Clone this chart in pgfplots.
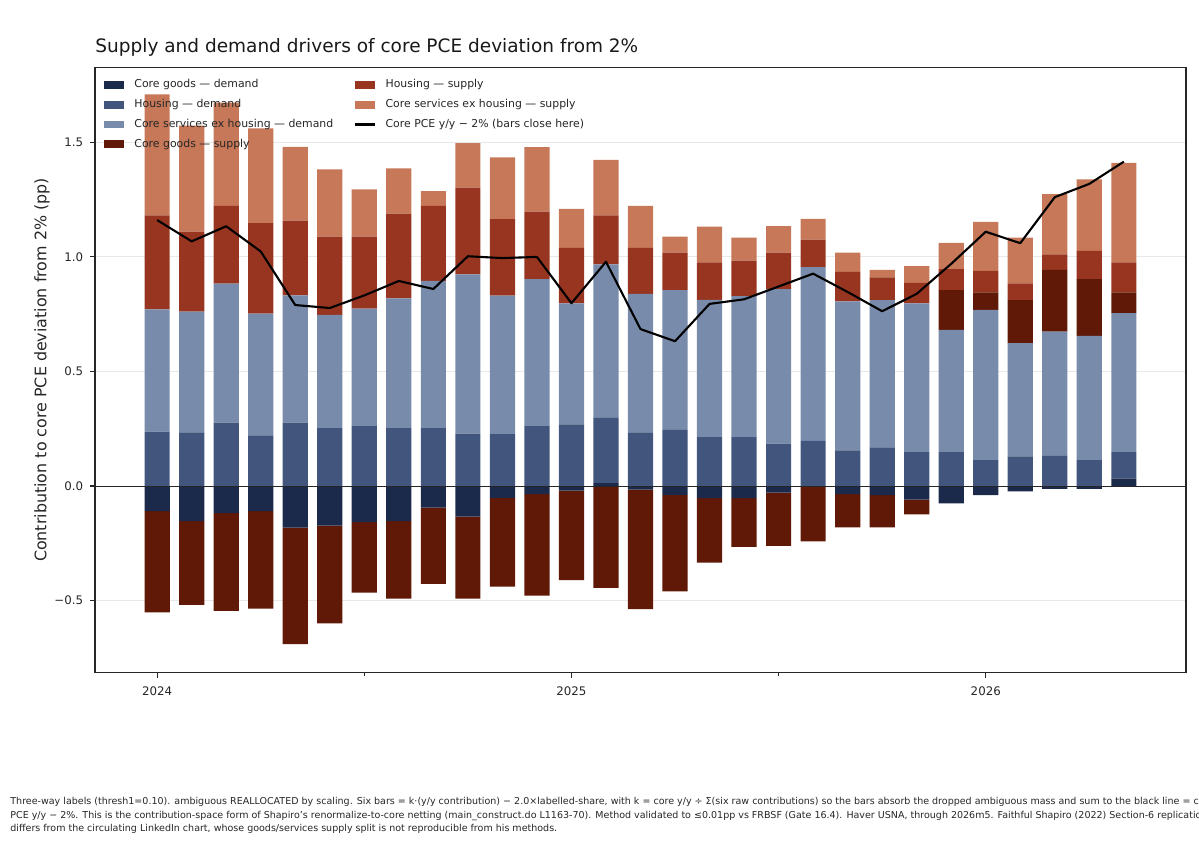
\documentclass[border=0pt]{standalone}
\usepackage{pgfplots}
\usepackage{pgfplotstable}
\pgfplotsset{compat=1.18}
\usepackage{fontspec}
\setmainfont{DejaVu Sans}
\definecolor{cgd}{HTML}{1B2A4A}
\definecolor{hd}{HTML}{41557D}
\definecolor{csd}{HTML}{788BAB}
\definecolor{cgs}{HTML}{5F1906}
\definecolor{hs}{HTML}{983520}
\definecolor{css}{HTML}{C77858}
\pgfplotstableread{
i cgd hd csd cgs hs css line
0 -0.110 0.237 0.534 -0.442 0.411 0.528 1.161
1 -0.153 0.234 0.527 -0.366 0.349 0.463 1.068
2 -0.118 0.277 0.607 -0.427 0.339 0.451 1.134
3 -0.110 0.221 0.532 -0.425 0.395 0.413 1.024
4 -0.182 0.277 0.555 -0.508 0.326 0.323 0.790
5 -0.173 0.253 0.494 -0.427 0.342 0.293 0.777
6 -0.158 0.261 0.513 -0.307 0.315 0.206 0.832
7 -0.153 0.253 0.566 -0.339 0.370 0.198 0.895
8 -0.094 0.253 0.642 -0.333 0.328 0.064 0.860
9 -0.134 0.229 0.695 -0.358 0.379 0.194 1.003
10 -0.052 0.226 0.605 -0.387 0.334 0.270 0.995
11 -0.035 0.261 0.642 -0.444 0.295 0.281 1.000
12 -0.020 0.269 0.528 -0.391 0.243 0.170 0.798
13 0.013 0.284 0.671 -0.445 0.213 0.243 0.979
14 -0.016 0.234 0.605 -0.521 0.201 0.183 0.685
15 -0.039 0.245 0.610 -0.421 0.164 0.070 0.632
16 -0.053 0.213 0.600 -0.281 0.163 0.156 0.795
17 -0.053 0.213 0.616 -0.213 0.155 0.100 0.815
18 -0.029 0.185 0.675 -0.232 0.159 0.115 0.871
19 -0.003 0.197 0.758 -0.239 0.121 0.090 0.927
20 -0.035 0.156 0.650 -0.146 0.129 0.084 0.847
21 -0.040 0.169 0.642 -0.141 0.100 0.033 0.763
22 -0.060 0.148 0.649 -0.064 0.090 0.073 0.839
23 -0.076 0.148 0.534 0.173 0.092 0.114 0.970
24 -0.040 0.113 0.656 0.076 0.094 0.214 1.110
25 -0.024 0.129 0.495 0.187 0.074 0.199 1.060
26 -0.013 0.132 0.542 0.270 0.067 0.263 1.261
27 -0.013 0.113 0.542 0.248 0.123 0.313 1.319
28 0.032 0.116 0.607 0.090 0.131 0.435 1.416
}\data
\pgfplotsset{
  geom/.style={scale only axis, width=545.5pt, height=302.7pt,
    at={(47.5pt,90.65pt)}, anchor=south west,
    xmin=-1.8, xmax=29.8, ymin=-0.815, ymax=1.828},
  patch/.style={legend image code/.code={\fill[##1, draw=none] (0pt,-1.9pt) rectangle (10pt,1.9pt);}},
  lineimg/.style={legend image code/.code={\draw[##1] (0pt,0pt) -- (10pt,0pt);}},
}
\begin{document}
\begin{tikzpicture}
\useasboundingbox (0,0) rectangle (599.5pt,427pt);
% positive stack, frame, ticks, grid, legend
\begin{axis}[geom,
  ybar stacked, bar width=0.73,
  axis line style={black!85, line width=0.6pt},
  tick style={black!85, line width=0.55pt},
  tick align=outside, major tick length=2.45pt, minor tick length=1.5pt,
  xtick pos=lower, ytick pos=left,
  xtick={0,12,24}, xticklabels={2024,2025,2026}, minor xtick={6,18},
  ytick={-0.5,0,0.5,1,1.5}, yticklabels={−0.5,0.0,0.5,1.0,1.5},
  tick label style={font=\fontsize{5.9}{7}\selectfont, text=black!85},
  xticklabel style={yshift=-1pt},
  ymajorgrids, major grid style={black!9, line width=0.5pt},
  ylabel={Contribution to core PCE deviation from 2\% (pp)},
  ylabel style={at={(axis description cs:-0.0486,0.5)}, anchor=center, font=\fontsize{7.95}{9}\selectfont, text=black!85},
  legend columns=2, legend cell align=left,
  legend style={draw=none, fill=none, at={(0.00825,0.9798)}, anchor=north west,
    font=\fontsize{5.45}{6.5}\selectfont, text=black!85, inner sep=0pt, row sep=4.65pt,
    nodes={inner sep=0pt, text height=4.0pt, text depth=1.2pt},
    /tikz/every odd column/.append style={column sep=5pt},
    /tikz/every even column/.append style={column sep=10.1pt}},
]
\addplot[fill=cgd, draw=none, forget plot] table[x=i, y expr={max(\thisrow{cgd},0)}]{\data};
\addplot[fill=hd, draw=none, forget plot] table[x=i, y=hd]{\data};
\addplot[fill=csd, draw=none, forget plot] table[x=i, y=csd]{\data};
\addplot[fill=cgs, draw=none, forget plot] table[x=i, y expr={max(\thisrow{cgs},0)}]{\data};
\addplot[fill=hs, draw=none, forget plot] table[x=i, y=hs]{\data};
\addplot[fill=css, draw=none, forget plot] table[x=i, y=css]{\data};
\addlegendimage{patch, fill=cgd}\addlegendentry{Core goods — demand}
\addlegendimage{patch, fill=hs}\addlegendentry{Housing — supply}
\addlegendimage{patch, fill=hd}\addlegendentry{Housing — demand}
\addlegendimage{patch, fill=css}\addlegendentry{Core services ex housing — supply}
\addlegendimage{patch, fill=csd}\addlegendentry{Core services ex housing — demand}
\addlegendimage{lineimg, black, line width=1.05pt}\addlegendentry{Core PCE y/y − 2\% (bars close here)}
\addlegendimage{patch, fill=cgs}\addlegendentry{Core goods — supply}
\end{axis}
% negative stack
\begin{axis}[geom, hide axis, ybar stacked, bar width=0.73]
\addplot[fill=cgd, draw=none] table[x=i, y expr={min(\thisrow{cgd},0)}]{\data};
\addplot[fill=cgs, draw=none] table[x=i, y expr={min(\thisrow{cgs},0)}]{\data};
\end{axis}
% zero line and core PCE line
\begin{axis}[geom, hide axis]
\addplot[black!85, line width=0.45pt] coordinates {(-1.8,0) (29.8,0)};
\addplot[black, line width=1.05pt, line join=round] table[x=i, y=line]{\data};
\end{axis}
\node[anchor=base west, inner sep=0pt, font=\fontsize{9.25}{10}\selectfont, text=black!90] at (47.5pt,400.5pt) {Supply and demand drivers of core PCE deviation from 2\%};
\begin{scope}[every node/.style={anchor=base west, inner sep=0pt, font=\fontsize{4.76}{5.5}\selectfont, text=black!85}]
\node at (5pt,24.5pt) {Three-way labels (thresh1=0.10). ambiguous REALLOCATED by scaling. Six bars = k·(y/y contribution) − 2.0×labelled-share, with k = core y/y ÷ Σ(six raw contributions) so the bars absorb the dropped ambiguous mass and sum to the black line = core};
\node at (5pt,17.75pt) {PCE y/y − 2\%. This is the contribution-space form of Shapiro's renormalize-to-core netting (main\_construct.do L1163-70). Method validated to ≤0.01pp vs FRBSF (Gate 16.4). Haver USNA, through 2026m5. Faithful Shapiro (2022) Section-6 replication};
\node at (5pt,11pt) {differs from the circulating LinkedIn chart, whose goods/services supply split is not reproducible from his methods.};
\end{scope}
\end{tikzpicture}
\end{document}
